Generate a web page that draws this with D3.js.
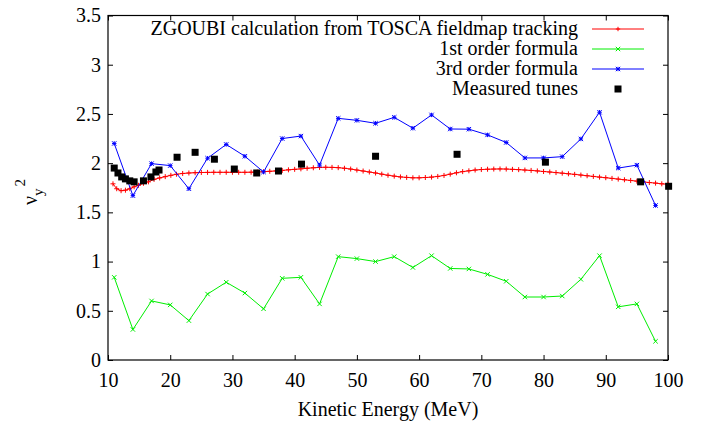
<!DOCTYPE html>
<html><head><meta charset="utf-8">
<script src="https://cdn.jsdelivr.net/npm/d3@7"></script>
<style>
body{margin:0;background:#fff;}
text{font-family:"Liberation Serif","Times New Roman",serif;}
</style></head>
<body><svg id="c" width="701" height="422"></svg>
<script>
// ---- data ----
const xTicks = [10,20,30,40,50,60,70,80,90,100];
const yTicks = [0,0.5,1,1.5,2,2.5,3,3.5];
const yTickLabels = ["0","0.5","1","1.5","2","2.5","3","3.5"];

const zgoubiE = [10.8,11.4,12.1,12.8,13.5,14.2,14.9,15.7,16.5,17.4,18.3,19.2,20.1,21,22,23,24,25,26,27,28,29,30,31,32,33,34,35,36,37,38,39,40,41,42,43,44,45,46,47,48,49,50,51,52,53,54,55,56,57,58,59,60,61,62,63,64,65,66,67,68,69,70,71,72,73,74,75,76,77,78,79,80,81,82,83,84,85,86,87,88,89,90,91,92,93,94,95,96,97,98,99,100];
const zgoubiNu = [1.79,1.74,1.72,1.725,1.74,1.76,1.775,1.795,1.81,1.835,1.85,1.863,1.876,1.887,1.895,1.9,1.903,1.905,1.906,1.907,1.907,1.907,1.907,1.907,1.907,1.908,1.91,1.913,1.917,1.921,1.926,1.932,1.937,1.942,1.948,1.953,1.957,1.958,1.957,1.954,1.948,1.94,1.93,1.92,1.91,1.9,1.888,1.877,1.868,1.86,1.855,1.851,1.851,1.854,1.858,1.865,1.875,1.888,1.902,1.914,1.922,1.93,1.935,1.938,1.94,1.941,1.94,1.937,1.934,1.93,1.926,1.921,1.915,1.91,1.904,1.898,1.892,1.886,1.879,1.872,1.865,1.858,1.852,1.845,1.838,1.831,1.824,1.817,1.81,1.803,1.797,1.79,1.785];

const formulaE = [11,14,17,20,23,26,29,32,35,38,41,44,47,50,53,56,59,62,65,68,71,74,77,80,83,86,89,92,95,98];
const firstOrderNu = [0.84,0.31,0.60,0.56,0.40,0.67,0.79,0.68,0.52,0.83,0.84,0.57,1.05,1.03,1.00,1.05,0.94,1.06,0.93,0.925,0.87,0.80,0.64,0.64,0.65,0.82,1.06,0.54,0.57,0.19];
const thirdOrderNu = [2.20,1.67,1.995,1.975,1.74,2.05,2.19,2.07,1.91,2.25,2.275,1.98,2.455,2.435,2.405,2.465,2.355,2.49,2.347,2.345,2.287,2.21,2.053,2.053,2.066,2.246,2.517,1.95,1.98,1.57];

const measuredE = [11.0,11.6,12.2,12.8,13.5,14.2,15.7,16.9,17.7,18.2,21.1,24.0,27.1,30.3,33.9,37.4,41.1,53.0,66.1,80.3,95.6,100.1];
const measuredNu = [1.95,1.90,1.86,1.84,1.82,1.81,1.82,1.86,1.91,1.93,2.06,2.11,2.04,1.94,1.90,1.92,1.99,2.07,2.09,2.01,1.81,1.765];

const legendLabels = ["ZGOUBI calculation from TOSCA fieldmap tracking","1st order formula","3rd order formula","Measured tunes"];
const colors = ["#ff0000","#00ee00","#0000ff","#000000"];

// ---- layout ----
const L=108, R=668, T=15.5, B=360;
const svg = d3.select("#c");
svg.append("rect").attr("width",701).attr("height",422).attr("fill","#fff");
const x = d3.scaleLinear().domain([10,100]).range([L,R]);
const y = d3.scaleLinear().domain([0,3.5]).range([B,T]);
const FS = 20;

// axes
const ax = svg.append("g").attr("transform",`translate(0,${B})`)
  .call(d3.axisBottom(x).tickValues(xTicks).tickSize(-5).tickSizeOuter(0).tickPadding(13));
const ay = svg.append("g").attr("transform",`translate(${L},0)`)
  .call(d3.axisLeft(y).tickValues(yTicks).tickFormat((d,i)=>yTickLabels[i]).tickSize(-5).tickSizeOuter(0).tickPadding(7));
const at = svg.append("g").attr("transform",`translate(0,${T})`)
  .call(d3.axisTop(x).tickValues(xTicks).tickSize(-5).tickSizeOuter(0).tickFormat(""));
const ar = svg.append("g").attr("transform",`translate(${R},0)`)
  .call(d3.axisRight(y).tickValues(yTicks).tickSize(-5).tickSizeOuter(0).tickFormat(""));
[ax,ay,at,ar].forEach(g=>{
  g.select(".domain").remove();
  g.selectAll("line").attr("stroke","#000").attr("stroke-width",1);
  g.selectAll("text").attr("font-size",FS).attr("fill","#000").style("font-family","Liberation Serif");
});
svg.append("rect").attr("x",L).attr("y",T).attr("width",R-L).attr("height",B-T)
  .attr("fill","none").attr("stroke","#000").attr("stroke-width",1.2);

// clip
svg.append("clipPath").attr("id","clip").append("rect").attr("x",L).attr("y",T).attr("width",R-L).attr("height",B-T);
const plot = svg.append("g");

function markerPath(type, s){
  if(type==="plus") return `M${-s},0H${s}M0,${-s}V${s}`;
  if(type==="cross") return `M${-s},${-s}L${s},${s}M${-s},${s}L${s},${-s}`;
  if(type==="star") return `M${-s},0H${s}M0,${-s}V${s}M${-s},${-s}L${s},${s}M${-s},${s}L${s},${-s}`;
}
function series(E, V, color, type, s){
  const pts = E.map((e,i)=>[x(e),y(V[i])]);
  plot.append("path").attr("d",d3.line()(pts)).attr("fill","none").attr("stroke",color).attr("stroke-width",1);
  plot.selectAll(null).data(pts).enter().append("path")
    .attr("transform",d=>`translate(${d[0]},${d[1]})`)
    .attr("d",markerPath(type,s)).attr("stroke",color).attr("stroke-width",1).attr("fill","none");
}
series(zgoubiE, zgoubiNu, colors[0], "plus", 2.5);
series(formulaE, firstOrderNu, colors[1], "cross", 2.2);
series(formulaE, thirdOrderNu, colors[2], "star", 2.2);
plot.selectAll(null).data(measuredE).enter().append("rect")
  .attr("x",(d)=>x(d)-3.5).attr("y",(d,i)=>y(measuredNu[i])-3.5)
  .attr("width",7).attr("height",7).attr("fill","#000");

// legend
const legY = [29,49,69,89];
const types = ["plus","cross","star","square"];
legendLabels.forEach((t,i)=>{
  svg.append("text").attr("x",578).attr("y",legY[i]).attr("dy","0.32em")
    .attr("text-anchor","end").attr("font-size",FS).text(t);
  if(types[i]==="square"){
    svg.append("rect").attr("x",618-3.5).attr("y",legY[i]-3.5).attr("width",7).attr("height",7).attr("fill","#000");
  } else {
    svg.append("line").attr("x1",592).attr("x2",644).attr("y1",legY[i]).attr("y2",legY[i]).attr("stroke",colors[i]).attr("stroke-width",1);
    svg.append("path").attr("transform",`translate(618,${legY[i]})`).attr("d",markerPath(types[i],2.2)).attr("stroke",colors[i]).attr("fill","none");
  }
});

// axis titles
svg.append("text").attr("x",(L+R)/2).attr("y",416).attr("text-anchor","middle").attr("font-size",FS).text("Kinetic Energy (MeV)");
const yl = svg.append("text").attr("transform","translate(37,192) rotate(-90)").attr("text-anchor","middle").attr("font-size",FS);
yl.append("tspan").text("ν");
yl.append("tspan").attr("dy",6).attr("font-size",15).text("y");
yl.append("tspan").attr("dy",-18).attr("dx",2).attr("font-size",15).text("2");
</script></body></html>
